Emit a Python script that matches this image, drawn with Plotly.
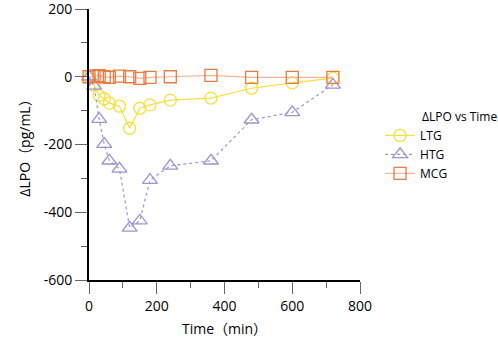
import plotly.graph_objects as go

time_min = [0, 15, 30, 45, 60, 90, 120, 150, 180, 240, 360, 480, 600, 720]
ltg = [0, -25, -55, -65, -78, -87, -152, -93, -83, -69, -63, -34, -18, -4]
htg = [0, -27, -125, -199, -248, -272, -446, -425, -305, -263, -248, -127, -105, -24]
mcg = [0, 2, 3, 0, -2, 2, 0, -5, -2, 0, 4, -2, -2, -2]

x_ticks = [0, 200, 400, 600, 800]
y_ticks = [-600, -400, -200, 0, 200]
y_tick_labels = ["-600", "-400", "-200", "0", "200"]

FONT = "Open Sans, Noto Sans CJK SC, sans-serif"

fig = go.Figure()
fig.add_trace(go.Scatter(
    x=time_min, y=ltg, name="LTG", mode="lines+markers", cliponaxis=False,
    line=dict(color="#F8DF3C", width=1.2),
    marker=dict(symbol="circle-open", size=12, color="#F8DF3C", line=dict(width=1.3)),
))
fig.add_trace(go.Scatter(
    x=time_min, y=htg, name="HTG", mode="lines+markers", cliponaxis=False,
    line=dict(color="#9C93D2", width=1.2, dash="dot"),
    marker=dict(symbol="triangle-up-open", size=13, color="#9C93D2", line=dict(width=1.3)),
))
fig.add_trace(go.Scatter(
    x=time_min, y=mcg, name="MCG", mode="lines+markers", cliponaxis=False,
    line=dict(color="#F7B597", width=1.2),
    marker=dict(symbol="square-open", size=12, color="#EE7A3E", line=dict(width=1.3)),
))

fig.update_layout(
    width=498, height=352,
    margin=dict(l=89, r=138, t=9, b=72),
    paper_bgcolor="white", plot_bgcolor="white",
    font=dict(family=FONT, size=14, color="black"),
    showlegend=True,
    legend=dict(
        x=1.074, y=0.587, xanchor="left", yanchor="top",
        font=dict(size=12), bgcolor="rgba(0,0,0,0)",
        tracegroupgap=0, itemwidth=30,
    ),
    annotations=[dict(
        text="ΔLPO vs Time", xref="paper", yref="paper", x=1.221, y=0.605,
        xanchor="left", yanchor="middle", showarrow=False, font=dict(size=12),
    )],
    xaxis=dict(
        range=[0, 800], tickvals=x_ticks, automargin=False,
        showgrid=False, zeroline=False, showline=True, linecolor="black", linewidth=2,
        ticks="outside", ticklen=12, tickwidth=1, tickcolor="#666",
        minor=dict(tickvals=[100, 300, 500, 700], ticks="outside", ticklen=6, tickcolor="#666"),
        title=dict(text="Time（min）", font=dict(size=14), standoff=10),
    ),
    yaxis=dict(
        range=[-600, 200], tickvals=y_ticks, ticktext=y_tick_labels,
        automargin=False, ticklabeloverflow="allow",
        showgrid=False, zeroline=False, showline=True, linecolor="black", linewidth=2,
        ticks="outside", ticklen=12, tickwidth=1, tickcolor="#666",
        minor=dict(tickvals=[-500, -300, -100, 100], ticks="outside", ticklen=6, tickcolor="#666"),
        title=dict(text="ΔLPO（pg/mL）", font=dict(size=14), standoff=10),
    ),
)

fig.write_html("out.html", config={"displayModeBar": False},
               post_script="document.body.style.margin='0';")
